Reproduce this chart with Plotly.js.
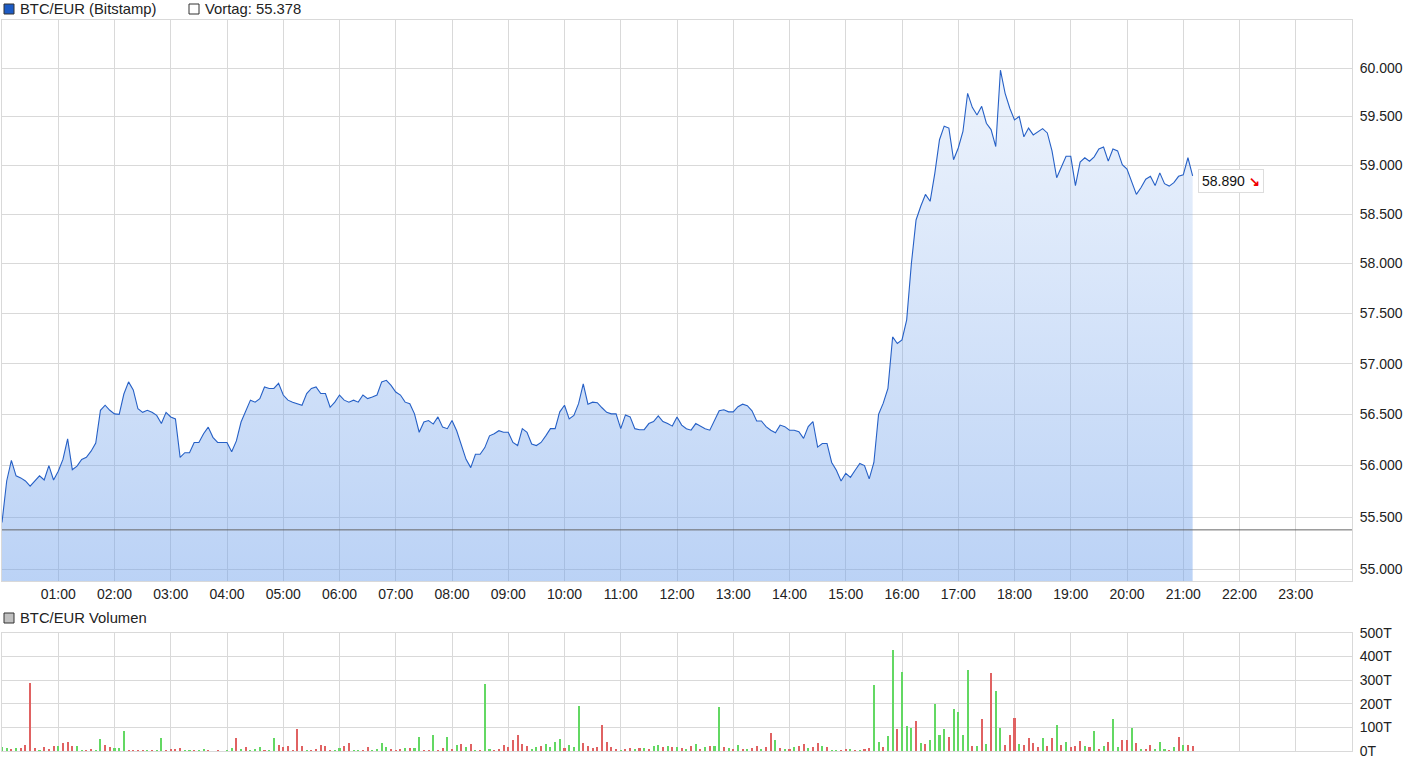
<!DOCTYPE html>
<html>
<head>
<meta charset="utf-8">
<script src="https://cdn.plot.ly/plotly-3.0.1.min.js"></script>
<style>
html,body{margin:0;padding:0;background:#fff;}
#chart{width:1410px;height:766px;}
</style>
</head>
<body>
<div id="chart"></div>
<script>
// ---- data ----
const seriesName = "BTC/EUR (Bitstamp)";
const volumeName = "BTC/EUR Volumen";
const prevLabel = "Vortag";
const prevClose = 55378;
const stepMinutes = 5; // one value every 5 minutes from 00:00

const price = [
55450,55850,56050,55900,55880,55850,55800,55850,55900,55860,
56000,55860,55945,56060,56260,55960,55995,56060,56080,56140,
56220,56540,56590,56540,56505,56500,56700,56820,56740,56555,
56520,56540,56520,56490,56410,56520,56475,56455,56080,56125,
56125,56225,56225,56310,56375,56275,56225,56225,56225,56135,
56240,56425,56525,56640,56620,56655,56770,56755,56755,56805,
56690,56640,56620,56605,56590,56705,56755,56770,56705,56705,
56570,56620,56690,56640,56620,56640,56620,56690,56655,56670,
56690,56820,56835,56785,56720,56690,56620,56605,56505,56325,
56425,56440,56405,56475,56375,56360,56440,56340,56195,56060,
55980,56110,56110,56175,56290,56310,56340,56325,56325,56225,
56195,56360,56325,56210,56195,56225,56290,56360,56360,56525,
56590,56455,56490,56605,56800,56600,56620,56615,56565,56520,
56505,56505,56360,56495,56475,56360,56350,56350,56410,56430,
56485,56430,56410,56385,56475,56395,56360,56345,56410,56385,
56360,56345,56445,56535,56545,56525,56525,56575,56600,56585,
56535,56435,56435,56380,56345,56320,56395,56380,56345,56345,
56330,56265,56380,56430,56180,56215,56215,56030,55955,55850,
55925,55885,55955,56020,56000,55870,56030,56500,56610,56755,
57265,57200,57235,57435,58000,58440,58580,58700,58630,58915,
59260,59400,59380,59055,59175,59345,59740,59595,59515,59605,
59430,59365,59190,59980,59740,59585,59465,59500,59290,59380,
59310,59345,59375,59330,59145,58870,58990,59090,59090,58790,
59030,59075,59040,59085,59165,59185,59040,59165,59145,59005,
58960,58835,58700,58770,58855,58885,58790,58920,58810,58785,
58820,58885,58900,59075,58890
];

// volume in thousands (T); positive = up tick (green), negative = down tick (red)
const volume = [
15,12,-10,14,-12,-25,-289,-14,6,-18,
-8,-20,21,-35,-39,-22,22,4,-6,-8,
5,49,-25,-18,12,14,84,-5,-6,-4,
-3,3,-5,5,56,-4,-7,-9,-12,6,
3,-3,4,8,-3,2,-3,2,5,12,
-56,8,-18,6,10,16,-4,3,56,-27,
-18,-22,-6,-93,-22,5,-6,-8,-25,-22,
-4,5,12,-22,-35,3,4,-5,-18,4,
8,35,18,-8,-6,-8,14,-14,12,60,
-6,-5,68,-6,-12,60,-8,25,-30,18,
-30,5,-4,283,8,-6,-10,-25,-18,-45,
-68,-30,-20,10,15,-22,30,18,40,50,
-12,25,15,190,-35,-20,-12,-15,-110,-40,
-15,-8,6,-10,-12,8,-14,12,-10,20,
25,-18,22,-15,18,-12,10,-20,30,-10,
15,-22,20,186,-15,12,-8,25,-10,8,
-12,-20,10,-15,-76,45,-12,10,-8,15,
-20,-30,12,-18,-35,20,-15,4,6,-5,
-10,8,-5,5,-8,-12,281,40,-18,63,
427,-91,332,105,99,-127,35,-30,45,197,
67,95,-60,179,165,67,343,-20,20,-137,
30,-328,252,99,-25,-67,-141,30,-25,-53,
-32,-15,57,-20,-57,109,-25,39,-15,-20,
-43,20,-15,84,-10,20,-39,134,15,-46,
-46,98,-35,8,-10,-25,8,39,10,-6,
15,-60,25,-25,-21
];

const priceTicks = [55000,55500,56000,56500,57000,57500,58000,58500,59000,59500,60000];
const volumeTicks = [0,100,200,300,400,500];
const hourTicks = [1,2,3,4,5,6,7,8,9,10,11,12,13,14,15,16,17,18,19,20,21,22,23];

// ---- helpers ----
const fmtPrice = v => (v/1000).toFixed(3);
const pad2 = n => (n < 10 ? "0" : "") + n;
const times = price.map((_, i) => i * stepMinutes / 60);
const vTimes = volume.map((_, i) => i * stepMinutes / 60);

const yLogRange = [4.739481, 4.781794];
const yBottom = Math.pow(10, yLogRange[0]);

const lineColor = "#2660c6";
const gridColor = "#d9d9d9";
const upColor = "#63d863";
const downColor = "#e06262";
const FONT = "Liberation Sans, Arial, sans-serif";

const traces = [
  { // baseline for the area fill
    x: times, y: times.map(() => yBottom), type: "scatter", mode: "lines",
    line: {width: 0, color: "rgba(0,0,0,0)"}, hoverinfo: "skip", showlegend: false,
    xaxis: "x", yaxis: "y"
  },
  {
    x: times, y: price, type: "scatter", mode: "lines", name: seriesName,
    line: {color: lineColor, width: 1.1},
    fill: "tonexty",
    fillgradient: {type: "vertical",
      colorscale: [[0, "rgba(110,160,235,0.47)"], [1, "rgba(110,160,235,0.12)"]]},
    hoverinfo: "skip", showlegend: false, xaxis: "x", yaxis: "y"
  },
  {
    x: vTimes.filter((_, i) => volume[i] >= 0),
    y: volume.filter(v => v >= 0),
    type: "bar", marker: {color: upColor, line: {width: 0}}, width: 0.036,
    hoverinfo: "skip", showlegend: false, xaxis: "x2", yaxis: "y2"
  },
  {
    x: vTimes.filter((_, i) => volume[i] < 0),
    y: volume.filter(v => v < 0).map(v => -v),
    type: "bar", marker: {color: downColor, line: {width: 0}}, width: 0.036,
    hoverinfo: "skip", showlegend: false, xaxis: "x2", yaxis: "y2"
  }
];

const W = 1410, H = 766;
const mL = 2, mR = 58, mT = 20, mB = 15;
const pw = W - mL - mR, ph = H - mT - mB;
const px = x => (x - mL) / pw;          // pixel x -> paper
const py = y => (H - mB - y) / ph;      // pixel y -> paper

const axisCommon = {
  showgrid: true, gridcolor: gridColor, gridwidth: 1,
  showline: true, linecolor: gridColor, linewidth: 1, mirror: true,
  zeroline: false, ticks: "", fixedrange: true
};

const legendFont = {family: FONT, size: 14.8, color: "#222"};

const layout = {
  width: W, height: H,
  margin: {l: mL, r: mR, t: mT, b: mB, pad: 0},
  paper_bgcolor: "#ffffff", plot_bgcolor: "#ffffff",
  font: {family: FONT, size: 14, color: "#222222"},
  showlegend: false,
  bargap: 0,
  xaxis: Object.assign({}, axisCommon, {
    domain: [0, 1], range: [0, 24], anchor: "y",
    tickmode: "array", tickvals: hourTicks,
    ticktext: hourTicks.map(h => pad2(h) + ":00"),
    tickfont: {family: FONT, size: 14, color: "#222"}
  }),
  yaxis: Object.assign({}, axisCommon, {
    domain: [py(581), 1], type: "log", range: yLogRange, side: "right", anchor: "x",
    tickmode: "array", tickvals: priceTicks, ticktext: priceTicks.map(fmtPrice),
    ticklabelstandoff: 4,
    tickfont: {family: FONT, size: 14, color: "#222"}
  }),
  xaxis2: Object.assign({}, axisCommon, {
    domain: [0, 1], range: [0, 24], anchor: "y2", matches: "x",
    tickmode: "array", tickvals: hourTicks, showticklabels: false
  }),
  yaxis2: Object.assign({}, axisCommon, {
    domain: [0, py(632.7)], range: [0, 500], side: "right", anchor: "x2",
    tickmode: "array", tickvals: volumeTicks, ticktext: volumeTicks.map(v => v + "T"),
    ticklabelstandoff: 4,
    tickfont: {family: FONT, size: 14, color: "#222"}
  }),
  shapes: [
    {type: "line", xref: "paper", yref: "y", x0: 0, x1: 1, y0: prevClose, y1: prevClose,
     line: {color: "#666666", width: 1}},
    {type: "rect", xref: "paper", yref: "paper", x0: px(4), x1: px(14), y0: py(14), y1: py(4),
     fillcolor: "#1d5bc4", line: {color: "#333", width: 1}},
    {type: "rect", xref: "paper", yref: "paper", x0: px(189), x1: px(199), y0: py(14), y1: py(4),
     fillcolor: "#ffffff", line: {color: "#333", width: 1}},
    {type: "rect", xref: "paper", yref: "paper", x0: px(4), x1: px(14), y0: py(623), y1: py(613),
     fillcolor: "#c0c0c0", line: {color: "#333", width: 1}}
  ],
  annotations: [
    {xref: "paper", yref: "paper", x: px(17.5), y: py(9), xanchor: "left", yanchor: "middle",
     text: seriesName, showarrow: false, font: legendFont},
    {xref: "paper", yref: "paper", x: px(202.5), y: py(9), xanchor: "left", yanchor: "middle",
     text: prevLabel + ": " + fmtPrice(prevClose), showarrow: false, font: legendFont},
    {xref: "paper", yref: "paper", x: px(17.5), y: py(618), xanchor: "left", yanchor: "middle",
     text: volumeName, showarrow: false, font: legendFont},
    {xref: "x", yref: "y", x: times[times.length - 1], y: Math.log10(price[price.length - 1]),
     xanchor: "left", yanchor: "middle", xshift: 5, yshift: -5,
     text: fmtPrice(price[price.length - 1]) + " <b><span style='color:#f00000;font-size:13px'>\u2198</span></b>",
     showarrow: false, bgcolor: "#ffffff", bordercolor: "#dddddd", borderwidth: 1, borderpad: 3,
     font: {family: FONT, size: 14, color: "#111"}}
  ]
};

Plotly.newPlot("chart", traces, layout, {staticPlot: true, displayModeBar: false});
</script>
</body>
</html>
